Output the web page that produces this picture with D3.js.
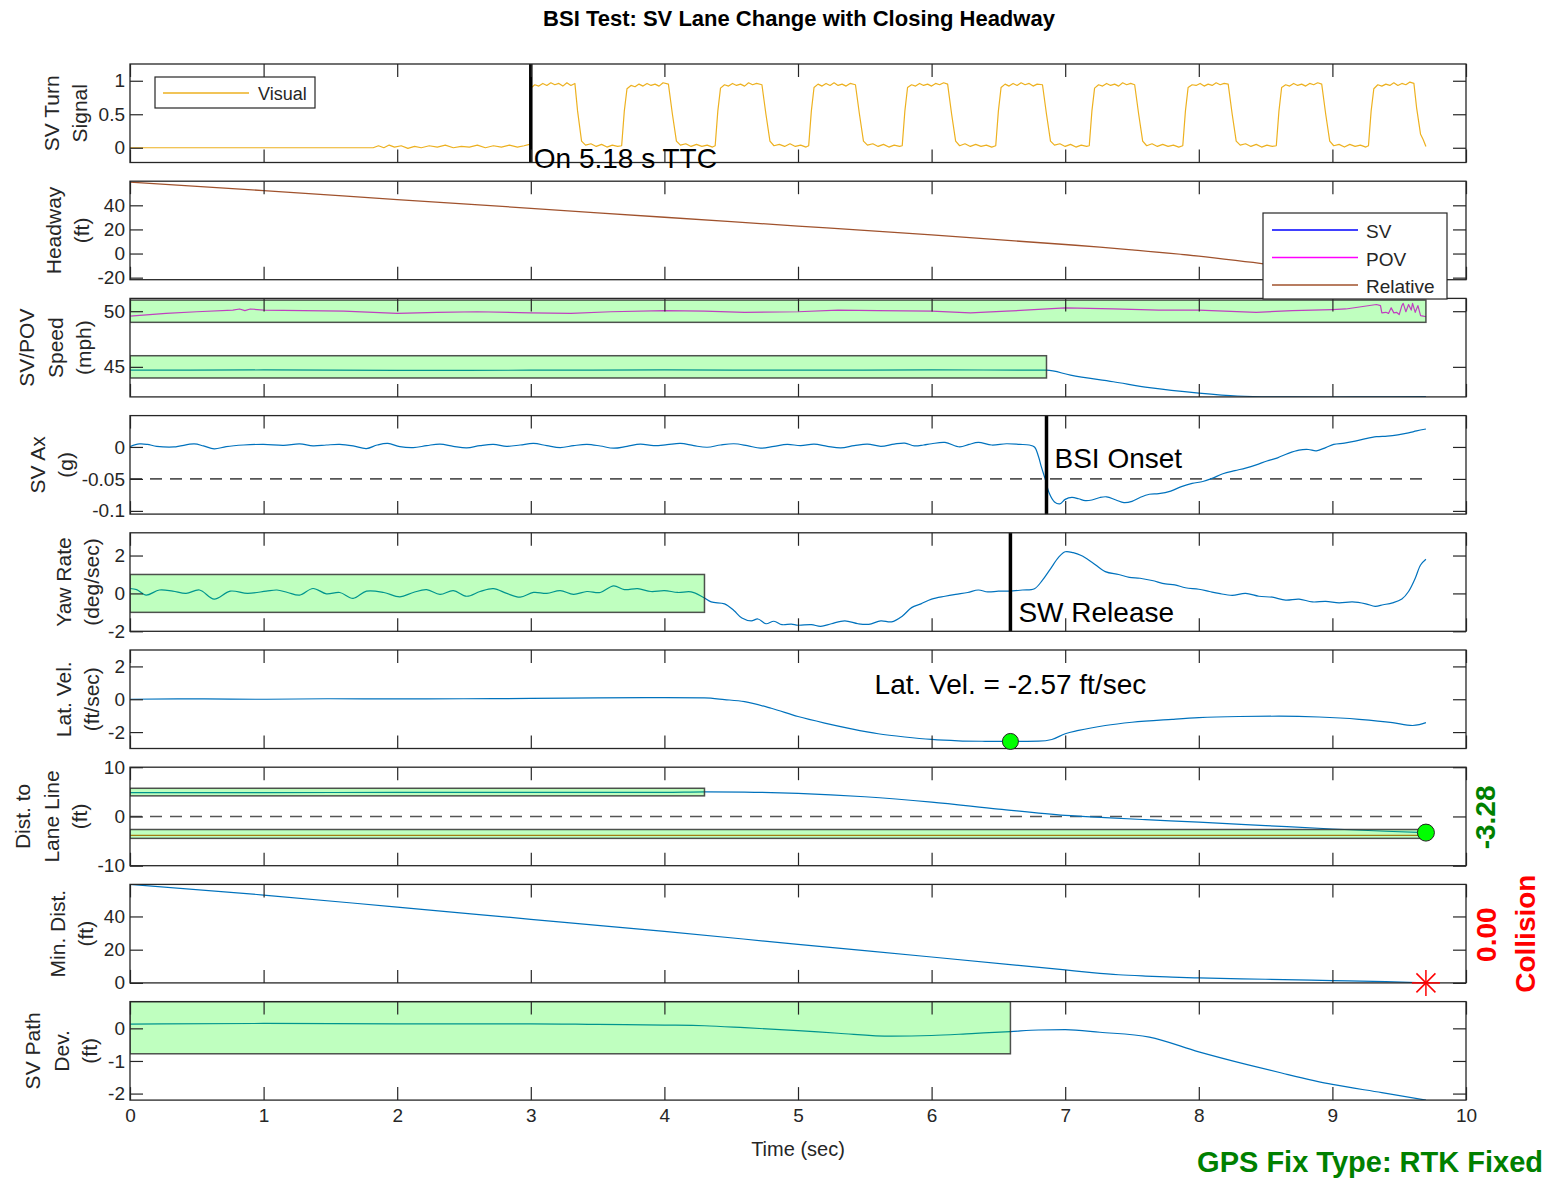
<!DOCTYPE html>
<html>
<head>
<meta charset="utf-8">
<script src="https://cdn.jsdelivr.net/npm/d3@7"></script>
<style>
  body { margin: 0; background: #fff; }
  svg { display: block; font-family: "Liberation Sans", Arial, Helvetica, sans-serif; }
</style>
</head>
<body>
<svg id="chart" width="1554" height="1181"></svg>
<script>
// ---------------- data (time in seconds) ----------------
const timeTicks = [0, 1, 2, 3, 4, 5, 6, 7, 8, 9, 10];

// SV turn signal, visual channel (0 = off, 1 = on)
const turnSignal = [
  [0,0],[1.82,0],[1.86,0.03],[1.9,0.0],[1.94,0.04],[1.98,0.01],[2.03,0.03],[2.08,-0.01],[2.13,0.02],[2.18,0.0],
  [2.24,0.03],[2.3,0.01],[2.36,0.04],[2.42,0.0],[2.48,0.02],[2.54,0.01],[2.6,0.04],[2.66,0.0],[2.72,0.03],[2.78,0.01],
  [2.84,0.04],[2.9,0.01],[2.95,0.03],[2.99,0.05],
  [3.0,0.06],[3.005,0.9],[3.03,0.94],[3.06,0.92],[3.09,0.96],[3.12,0.93],[3.15,0.97],[3.18,0.94],[3.21,0.96],[3.24,0.92],
  [3.27,0.97],[3.3,0.93],[3.33,0.96],[3.35,0.55],[3.38,0.1],[3.41,0.04],[3.45,0.06],[3.49,0.02],[3.53,0.05],[3.57,0.01],
  [3.61,0.04],[3.65,0.02],[3.68,0.03],
  [3.7,0.55],[3.72,0.88],[3.75,0.93],[3.78,0.91],[3.81,0.95],[3.84,0.92],[3.87,0.96],[3.9,0.93],[3.93,0.95],[3.96,0.92],
  [3.99,0.97],[4.03,0.95],[4.06,0.5],[4.09,0.1],[4.12,0.04],[4.16,0.06],[4.2,0.02],[4.24,0.05],[4.28,0.02],[4.32,0.04],
  [4.36,0.01],[4.38,0.03],
  [4.4,0.55],[4.42,0.89],[4.45,0.94],[4.48,0.92],[4.51,0.96],[4.54,0.93],[4.57,0.95],[4.6,0.92],[4.63,0.97],[4.66,0.94],
  [4.69,0.96],[4.73,0.94],[4.76,0.5],[4.79,0.1],[4.82,0.03],[4.86,0.05],[4.9,0.02],[4.94,0.06],[4.98,0.02],[5.02,0.04],
  [5.06,0.01],[5.08,0.03],
  [5.1,0.55],[5.12,0.9],[5.15,0.95],[5.18,0.92],[5.21,0.96],[5.24,0.93],[5.27,0.97],[5.3,0.93],[5.33,0.95],[5.36,0.92],
  [5.39,0.96],[5.43,0.94],[5.46,0.5],[5.49,0.1],[5.52,0.04],[5.56,0.06],[5.6,0.02],[5.64,0.05],[5.68,0.01],[5.72,0.04],
  [5.76,0.02],[5.78,0.03],
  [5.8,0.55],[5.82,0.9],[5.85,0.94],[5.88,0.92],[5.91,0.96],[5.94,0.93],[5.97,0.95],[6.0,0.92],[6.03,0.96],[6.06,0.94],
  [6.09,0.97],[6.12,0.95],[6.15,0.5],[6.18,0.1],[6.21,0.03],[6.25,0.06],[6.29,0.02],[6.33,0.05],[6.37,0.02],[6.41,0.04],
  [6.45,0.01],[6.48,0.03],
  [6.5,0.55],[6.52,0.9],[6.55,0.95],[6.58,0.92],[6.61,0.96],[6.64,0.93],[6.67,0.97],[6.7,0.94],[6.73,0.96],[6.76,0.92],
  [6.79,0.95],[6.83,0.94],[6.86,0.5],[6.89,0.1],[6.92,0.04],[6.96,0.06],[7.0,0.02],[7.04,0.05],[7.08,0.01],[7.12,0.04],
  [7.16,0.02],[7.18,0.03],
  [7.2,0.55],[7.22,0.89],[7.25,0.94],[7.28,0.92],[7.31,0.96],[7.34,0.93],[7.37,0.95],[7.4,0.92],[7.43,0.97],[7.46,0.94],
  [7.49,0.96],[7.52,0.94],[7.55,0.5],[7.58,0.1],[7.61,0.03],[7.65,0.06],[7.69,0.02],[7.73,0.05],[7.77,0.02],[7.81,0.04],
  [7.85,0.01],[7.88,0.03],
  [7.9,0.55],[7.92,0.9],[7.95,0.94],[7.98,0.93],[8.01,0.96],[8.04,0.92],[8.07,0.95],[8.1,0.93],[8.13,0.97],[8.16,0.94],
  [8.19,0.96],[8.22,0.95],[8.25,0.5],[8.28,0.1],[8.31,0.04],[8.35,0.06],[8.39,0.02],[8.43,0.05],[8.47,0.01],[8.51,0.04],
  [8.55,0.02],[8.58,0.03],
  [8.6,0.55],[8.62,0.9],[8.65,0.94],[8.68,0.92],[8.71,0.96],[8.74,0.93],[8.77,0.95],[8.8,0.92],[8.83,0.96],[8.86,0.94],
  [8.89,0.97],[8.92,0.95],[8.95,0.5],[8.98,0.1],[9.01,0.03],[9.05,0.05],[9.09,0.01],[9.13,0.05],[9.17,0.02],[9.21,0.04],
  [9.25,0.01],[9.27,0.03],
  [9.29,0.55],[9.31,0.88],[9.34,0.94],[9.37,0.92],[9.4,0.95],[9.43,0.93],[9.46,0.97],[9.49,0.93],[9.52,0.96],[9.55,0.94],
  [9.58,0.98],[9.61,0.96],[9.63,0.6],[9.66,0.2],[9.68,0.12],[9.7,0.02]
];

// Relative headway (ft)
const headwayRelative = [
  [0,59.2],[1,52.2],[2,44.8],[3,37.5],[4,30.1],[5,22.8],[6,15.4],[7,7.5],[7.26,5.3],[7.5,3.0],
  [8,-2.2],[8.5,-8.7],[9,-14.5],[9.7,-22.5]
];

// Speeds (mph)
const povSpeed = [
  [0,49.55],[0.27,49.8],[0.5,49.95],[0.77,50.1],[0.82,50.2],[0.86,50.05],[0.9,50.2],[1.0,50.1],[1.3,50.05],[1.6,50.0],
  [2.0,49.8],[2.3,49.9],[2.6,49.95],[3.0,49.85],[3.3,49.8],[3.6,49.95],[4.0,50.05],[4.3,50.0],[4.6,49.9],[5.0,49.95],
  [5.3,50.1],[5.6,50.05],[6.0,50.0],[6.29,49.85],[6.56,50.0],[7.0,50.3],[7.36,50.2],[7.7,50.1],[8.0,50.1],[8.43,49.9],
  [8.7,50.05],[9.0,50.15],[9.1,50.2],[9.33,50.6],[9.36,50.5],[9.37,49.85],[9.4,49.9],[9.42,49.8],[9.44,50.3],[9.46,49.85],
  [9.48,49.9],[9.5,49.7],[9.52,50.5],[9.53,50.7],[9.55,49.95],[9.57,50.6],[9.59,50.1],[9.6,50.7],[9.62,49.9],[9.64,50.5],
  [9.66,49.6],[9.68,49.55],[9.7,49.5]
];
const svSpeed = [
  [0,44.7],[1,44.72],[2,44.68],[3,44.7],[4,44.72],[5,44.7],[6,44.72],[6.86,44.7],[7.04,44.25],[7.36,43.66],
  [7.63,43.13],[8.0,42.64],[8.29,42.38],[8.56,42.31],[8.96,42.29],[9.23,42.3],[9.7,42.32]
];

// SV longitudinal acceleration (g)
const svAx = [
  [0,0.0005],[0.07,0.0047],[0.13,0.004],[0.2,0.001],[0.33,0.0],[0.48,0.0047],[0.55,0.0016],[0.63,-0.003],[0.72,0.0005],
  [0.85,0.003],[1.0,0.004],[1.15,0.0026],[1.27,0.0047],[1.37,0.0016],[1.47,0.003],[1.57,0.004],[1.67,0.0016],[1.77,-0.0026],
  [1.85,0.003],[1.93,0.0055],[2.02,0.0005],[2.12,-0.001],[2.22,0.002],[2.32,0.0045],[2.42,0.001],[2.52,-0.0015],[2.62,0.002],
  [2.72,0.004],[2.82,0.001],[2.92,0.003],[3.02,0.0055],[3.12,0.002],[3.22,-0.001],[3.32,0.002],[3.42,0.004],[3.52,0.0015],
  [3.62,-0.002],[3.72,0.001],[3.82,0.0045],[3.92,0.002],[4.02,0.0035],[4.12,0.0055],[4.22,0.002],[4.32,-0.0005],[4.42,0.003],
  [4.52,0.005],[4.62,0.002],[4.72,-0.002],[4.82,0.001],[4.92,0.004],[5.02,0.002],[5.12,0.0045],[5.22,0.001],[5.32,-0.0015],
  [5.42,0.002],[5.52,0.0045],[5.62,0.001],[5.72,0.0045],[5.8,0.006],[5.87,0.0016],[5.94,0.003],[6.0,0.005],[6.1,0.007],
  [6.21,0.0],[6.28,0.004],[6.35,0.007],[6.45,0.003],[6.56,0.005],[6.66,0.004],[6.73,0.003],[6.77,0.0],[6.8,-0.015],
  [6.82,-0.03],[6.85,-0.05],[6.88,-0.072],[6.92,-0.086],[6.96,-0.089],[7.0,-0.082],[7.05,-0.079],[7.1,-0.081],[7.15,-0.084],
  [7.2,-0.083],[7.26,-0.079],[7.31,-0.078],[7.38,-0.083],[7.44,-0.087],[7.5,-0.085],[7.56,-0.079],[7.63,-0.074],[7.7,-0.073],
  [7.79,-0.069],[7.87,-0.062],[7.95,-0.057],[8.03,-0.054],[8.1,-0.049],[8.18,-0.042],[8.27,-0.037],[8.35,-0.033],[8.43,-0.028],
  [8.51,-0.022],[8.59,-0.017],[8.67,-0.01],[8.75,-0.005],[8.82,-0.004],[8.88,-0.006],[8.95,-0.001],[9.01,0.004],[9.09,0.006],
  [9.17,0.009],[9.25,0.013],[9.33,0.016],[9.41,0.017],[9.49,0.019],[9.57,0.022],[9.63,0.025],[9.7,0.028]
];

// Yaw rate (deg/sec)
const yawRate = [
  [0,0.26],[0.05,0.2],[0.12,-0.09],[0.22,0.18],[0.32,0.12],[0.42,0.0],[0.52,0.18],[0.63,-0.3],[0.75,0.12],[0.88,0.0],
  [1.02,0.12],[1.1,0.18],[1.18,0.05],[1.27,-0.09],[1.37,0.26],[1.47,-0.02],[1.57,0.05],[1.67,-0.26],[1.77,0.12],[1.9,0.05],
  [2.02,-0.18],[2.12,0.05],[2.22,0.2],[2.32,-0.05],[2.42,0.15],[2.52,-0.15],[2.62,0.1],[2.72,0.25],[2.82,0.0],[2.92,-0.2],
  [3.02,0.05],[3.12,0.0],[3.22,0.15],[3.32,-0.05],[3.42,0.1],[3.52,0.05],[3.62,0.4],[3.7,0.2],[3.8,0.25],[3.9,0.1],
  [4.0,0.15],[4.1,0.05],[4.2,0.08],[4.29,-0.2],[4.35,-0.45],[4.45,-0.55],[4.52,-0.9],[4.58,-1.3],[4.65,-1.45],[4.7,-1.35],
  [4.76,-1.6],[4.82,-1.47],[4.88,-1.65],[4.95,-1.62],[5.0,-1.68],[5.1,-1.65],[5.17,-1.74],[5.25,-1.6],[5.35,-1.45],[5.45,-1.6],
  [5.53,-1.63],[5.62,-1.45],[5.7,-1.5],[5.78,-1.2],[5.85,-0.75],[5.92,-0.55],[6.0,-0.3],[6.1,-0.15],[6.18,-0.05],[6.27,0.05],
  [6.35,0.18],[6.42,0.08],[6.5,0.12],[6.58,0.12],[6.68,0.18],[6.77,0.25],[6.83,0.7],[6.89,1.3],[6.95,1.9],[7.0,2.2],
  [7.06,2.15],[7.12,2.0],[7.2,1.65],[7.3,1.15],[7.4,1.0],[7.48,0.85],[7.56,0.8],[7.65,0.68],[7.75,0.5],[7.82,0.45],
  [7.9,0.3],[8.0,0.22],[8.08,0.1],[8.15,0.0],[8.25,-0.1],[8.35,0.0],[8.45,-0.15],[8.55,-0.2],[8.65,-0.35],[8.75,-0.3],
  [8.85,-0.45],[8.95,-0.42],[9.05,-0.5],[9.15,-0.45],[9.25,-0.55],[9.32,-0.68],[9.38,-0.6],[9.45,-0.5],[9.52,-0.3],[9.57,0.1],
  [9.62,0.8],[9.66,1.5],[9.7,1.8]
];

// Lateral velocity (ft/sec)
const latVel = [
  [0,0.0],[0.5,0.02],[1,0.0],[1.5,0.03],[2,0.02],[2.5,0.03],[3,0.05],[3.5,0.08],[4,0.1],[4.3,0.08],[4.45,-0.02],
  [4.6,-0.15],[4.8,-0.55],[5.0,-1.05],[5.2,-1.45],[5.4,-1.8],[5.6,-2.1],[5.8,-2.3],[6.0,-2.45],[6.2,-2.53],[6.4,-2.56],
  [6.59,-2.57],[6.8,-2.55],[6.9,-2.45],[7.0,-2.1],[7.1,-1.9],[7.3,-1.6],[7.5,-1.4],[7.8,-1.22],[8.0,-1.12],[8.3,-1.05],
  [8.6,-1.03],[8.9,-1.08],[9.2,-1.22],[9.45,-1.42],[9.6,-1.6],[9.65,-1.55],[9.7,-1.42]
];

// Distance to lane line (ft)
const laneDistSV = [
  [0,4.85],[1,4.85],[2,4.87],[3,4.88],[4,4.9],[4.3,5.0],[4.6,4.95],[5.0,4.7],[5.5,4.0],[6.0,2.9],[6.5,1.5],
  [7.0,0.2],[7.3,-0.25],[7.6,-0.65],[8.0,-1.15],[8.5,-1.85],[9.0,-2.55],[9.4,-3.0],[9.7,-3.28]
];
const laneDistPOV = [[0,-3.85],[3,-3.85],[6,-3.85],[9.7,-3.85]];

// Minimum distance between vehicles (ft)
const minDist = [
  [0,59.3],[1,52.9],[2,45.6],[3,38.3],[3.52,34.5],[4,31.0],[5,23.2],[6,15.6],[7,7.8],[7.2,6.2],[7.4,4.9],
  [7.6,4.1],[7.8,3.5],[8.0,3.0],[8.5,2.2],[9.0,1.4],[9.4,0.8],[9.7,0.0]
];

// SV path deviation (ft)
const pathDev = [
  [0,0.13],[1,0.15],[2,0.14],[3,0.14],[3.5,0.12],[4,0.1],[4.3,0.08],[4.6,0.02],[5,-0.07],[5.3,-0.15],[5.7,-0.24],
  [6,-0.22],[6.3,-0.16],[6.59,-0.1],[6.8,-0.05],[7,-0.04],[7.26,-0.12],[7.63,-0.27],[8,-0.72],[8.37,-1.12],[8.62,-1.37],
  [9,-1.72],[9.37,-1.97],[9.7,-2.2]
];

// Events and tolerance bands
const turnOnTime = 3.0, swReleaseTime = 6.59, bsiOnsetTime = 6.86, endTime = 9.7;
const latVelAtRelease = -2.57, laneDistAtEnd = -3.28, minDistAtEnd = 0.00;
const povSpeedBand = [49, 51], svSpeedBand = [44, 46];
const yawBand = [-1, 1], yawBandEnd = 4.3;
const laneBandSV = [4.18, 5.72], laneBandSVEnd = 4.3;
const laneBandPOV = [-4.45, -2.65];
const pathDevBand = [-0.78, 0.82];
const axThreshold = -0.05;

// ---------------- layout ----------------
const svg = d3.select("#chart");
const W = 1554, H = 1181;
svg.append("rect").attr("width", W).attr("height", H).attr("fill", "#fff");

const x = d3.scaleLinear().domain([0, 10]).range([130, 1466]);
const top0 = 64, step = 117.2, ph = 98.5;
const AX = "#262626";
const BLUE = "#0072BD", ORANGE = "#D95319", YELLOW = "#EDB120";
const GREEN_FILL = "rgba(0,255,0,0.25)";

const panelSpecs = [
  { key: "turn",  domain: [-0.22, 1.25], ticks: [0, 0.5, 1], label: ["SV Turn", "Signal"], lx: 80 },
  { key: "head",  domain: [-21.7, 60], ticks: [-20, 0, 20, 40], label: ["Headway", "(ft)"], lx: 82 },
  { key: "speed", domain: [42.3, 51.15], ticks: [45, 50], label: ["SV/POV", "Speed", "(mph)"], lx: 84 },
  { key: "ax",    domain: [-0.105, 0.049], ticks: [-0.1, -0.05, 0], label: ["SV Ax", "(g)"], lx: 66 },
  { key: "yaw",   domain: [-2, 3.2], ticks: [-2, 0, 2], label: ["Yaw Rate", "(deg/sec)"], lx: 92 },
  { key: "lat",   domain: [-3, 3], ticks: [-2, 0, 2], label: ["Lat. Vel.", "(ft/sec)"], lx: 92 },
  { key: "lane",  domain: [-10, 10], ticks: [-10, 0, 10], label: ["Dist. to", "Lane Line", "(ft)"], lx: 80 },
  { key: "min",   domain: [0, 59.3], ticks: [0, 20, 40], label: ["Min. Dist.", "(ft)"], lx: 86 },
  { key: "path",  domain: [-2.2, 0.82], ticks: [-2, -1, 0], label: ["SV Path", "Dev.", "(ft)"], lx: 90 }
];

const panels = {};
panelSpecs.forEach((p, i) => {
  const t = top0 + i * step;
  const y = d3.scaleLinear().domain(p.domain).range([t + ph, t]);
  const g = svg.append("g").attr("class", "panel-" + p.key);
  const clipId = "clip-" + p.key;
  svg.append("clipPath").attr("id", clipId)
    .append("rect").attr("x", x(0)).attr("y", t).attr("width", x(10) - x(0)).attr("height", ph);
  const data = g.append("g").attr("clip-path", `url(#${clipId})`);
  panels[p.key] = { ...p, y, g, data, top: t, bottom: t + ph };
});

const lineGen = (y, curve) => d3.line().x(d => x(d[0])).y(d => y(d[1])).curve(curve || d3.curveLinear);
function drawLine(pk, series, color, curve, width) {
  const P = panels[pk];
  P.data.append("path").datum(series)
    .attr("d", lineGen(P.y, curve))
    .attr("fill", "none").attr("stroke", color).attr("stroke-width", width || 1.2)
    .attr("stroke-linejoin", "round");
}
function band(pk, t0, t1, range) {
  const P = panels[pk];
  P.data.append("rect")
    .attr("x", x(t0)).attr("y", P.y(range[1]))
    .attr("width", x(t1) - x(t0)).attr("height", P.y(range[0]) - P.y(range[1]))
    .attr("fill", GREEN_FILL).attr("stroke", "#333").attr("stroke-opacity", 0.85).attr("stroke-width", 1.5);
}
function dashed(pk, value, t0, t1) {
  const P = panels[pk];
  P.data.append("line").attr("x1", x(t0)).attr("x2", x(t1))
    .attr("y1", P.y(value)).attr("y2", P.y(value))
    .attr("stroke", "#555").attr("stroke-width", 1.6).attr("stroke-dasharray", "12,8");
}
function eventLine(pk, t) {
  const P = panels[pk];
  P.g.append("line").attr("x1", x(t)).attr("x2", x(t))
    .attr("y1", P.top).attr("y2", P.bottom)
    .attr("stroke", "#000").attr("stroke-width", 3.5);
}
function note(txt, px, py, opts = {}) {
  return svg.append("text").attr("x", px).attr("y", py)
    .attr("font-size", opts.size || 28).attr("fill", opts.color || "#000")
    .attr("font-weight", opts.weight || "normal")
    .attr("text-anchor", opts.anchor || "start").text(txt);
}

// ---------------- series ----------------
drawLine("turn", turnSignal, YELLOW, d3.curveLinear, 1.2);
drawLine("head", headwayRelative, "#A0522D", d3.curveMonotoneX, 1.3);

drawLine("speed", povSpeed, "#FF00FF", d3.curveLinear, 1.2);
drawLine("speed", svSpeed, BLUE, d3.curveMonotoneX, 1.2);
band("speed", 0, endTime, povSpeedBand);
band("speed", 0, bsiOnsetTime, svSpeedBand);

dashed("ax", axThreshold, 0, endTime);
drawLine("ax", svAx, BLUE, d3.curveCatmullRom, 1.2);

drawLine("yaw", yawRate, BLUE, d3.curveCatmullRom, 1.2);
band("yaw", 0, yawBandEnd, yawBand);

drawLine("lat", latVel, BLUE, d3.curveMonotoneX, 1.2);

dashed("lane", 0, 0, endTime);
drawLine("lane", laneDistPOV, ORANGE, d3.curveLinear, 1.2);
drawLine("lane", laneDistSV, BLUE, d3.curveMonotoneX, 1.2);
band("lane", 0, laneBandSVEnd, laneBandSV);
band("lane", 0, endTime, laneBandPOV);

drawLine("min", minDist, BLUE, d3.curveMonotoneX, 1.2);

drawLine("path", pathDev, BLUE, d3.curveMonotoneX, 1.2);
band("path", 0, swReleaseTime, pathDevBand);

// ---------------- event markers ----------------
eventLine("turn", turnOnTime);
eventLine("ax", bsiOnsetTime);
eventLine("yaw", swReleaseTime);

const lat = panels.lat, lane = panels.lane, mind = panels.min;
svg.append("circle").attr("cx", x(swReleaseTime)).attr("cy", lat.y(latVelAtRelease)).attr("r", 8)
  .attr("fill", "#00FF00").attr("stroke", "#222").attr("stroke-width", 1);
svg.append("circle").attr("cx", x(endTime)).attr("cy", lane.y(laneDistAtEnd)).attr("r", 8.5)
  .attr("fill", "#00FF00").attr("stroke", "#222").attr("stroke-width", 1);

// asterisk marker at collision point
const ax0 = x(endTime), ay0 = mind.y(minDistAtEnd);
const star = svg.append("g").attr("stroke", "#FF0000").attr("stroke-width", 1.5);
[[-14, 0, 14, 0], [0, -13, 0, 13], [-9.5, -9.5, 9.5, 9.5], [-9.5, 9.5, 9.5, -9.5]].forEach(s => {
  star.append("line").attr("x1", ax0 + s[0]).attr("y1", ay0 + s[1]).attr("x2", ax0 + s[2]).attr("y2", ay0 + s[3]);
});

// ---------------- axes ----------------
const fmt = d => String(d);
Object.values(panels).forEach((P, i) => {
  const g = P.g;
  const last = i === panelSpecs.length - 1;
  const styleAxis = sel => {
    sel.select(".domain").remove();
    sel.selectAll(".tick line").attr("stroke", AX).attr("stroke-width", 1.2);
    sel.selectAll(".tick text").attr("fill", AX).attr("font-size", 19)
      .attr("font-family", '"Liberation Sans", Arial, Helvetica, sans-serif');
  };
  g.append("g").attr("transform", `translate(${x(0)},0)`)
    .call(d3.axisLeft(P.y).tickValues(P.ticks).tickSize(-13).tickPadding(5).tickFormat(fmt)).call(styleAxis);
  g.append("g").attr("transform", `translate(${x(10)},0)`)
    .call(d3.axisRight(P.y).tickValues(P.ticks).tickSize(-13).tickFormat("")).call(styleAxis);
  g.append("g").attr("transform", `translate(0,${P.top})`)
    .call(d3.axisTop(x).tickValues(timeTicks).tickSize(-13).tickFormat("")).call(styleAxis);
  g.append("g").attr("transform", `translate(0,${P.bottom})`)
    .call(d3.axisBottom(x).tickValues(timeTicks).tickSize(-13).tickPadding(8).tickFormat(last ? fmt : ""))
    .call(styleAxis);
  g.append("rect").attr("x", x(0)).attr("y", P.top).attr("width", x(10) - x(0)).attr("height", ph)
    .attr("fill", "none").attr("stroke", AX).attr("stroke-width", 1.3);

  // multi-line y label
  const cy = (P.top + P.bottom) / 2;
  P.label.forEach((s, k) => {
    const lx = P.lx - (P.label.length - 1 - k) * 28.5;
    svg.append("text").attr("transform", `translate(${lx},${cy}) rotate(-90)`)
      .attr("text-anchor", "middle").attr("dy", "0.35em")
      .attr("font-size", 21).attr("fill", AX).text(s);
  });
});

// ---------------- annotations ----------------
svg.append("text").attr("x", 799).attr("y", 26).attr("text-anchor", "middle")
  .attr("font-size", 22).attr("font-weight", "bold").attr("fill", "#000")
  .text("BSI Test: SV Lane Change with Closing Headway");

note("On 5.18 s TTC", x(turnOnTime) + 3, 168);
note("BSI Onset", x(bsiOnsetTime) + 8, 468);
note("SW Release", x(swReleaseTime) + 8, 622);
note("Lat. Vel. = " + latVelAtRelease.toFixed(2) + " ft/sec", x(swReleaseTime), 694, { anchor: "middle" });

svg.append("text").attr("x", 798).attr("y", 1156).attr("text-anchor", "middle")
  .attr("font-size", 20).attr("fill", AX).text("Time (sec)");

const rot = (txt, px, py, color) => svg.append("text")
  .attr("transform", `translate(${px},${py}) rotate(-90)`).attr("text-anchor", "middle")
  .attr("font-size", 28).attr("font-weight", "bold").attr("fill", color).text(txt);
rot(laneDistAtEnd.toFixed(2), 1495, (lane.top + lane.bottom) / 2 + 1, "#008000");
rot(minDistAtEnd.toFixed(2), 1496, (mind.top + mind.bottom) / 2 + 1, "#FF0000");
rot("Collision", 1535, (mind.top + mind.bottom) / 2, "#FF0000");

svg.append("text").attr("x", 1543).attr("y", 1172).attr("text-anchor", "end")
  .attr("font-size", 29).attr("font-weight", "bold").attr("fill", "#008000")
  .text("GPS Fix Type: RTK Fixed");

// ---------------- legends ----------------
const lg1 = svg.append("g");
lg1.append("rect").attr("x", 155).attr("y", 77).attr("width", 160).attr("height", 31)
  .attr("fill", "#fff").attr("stroke", AX).attr("stroke-width", 1.2);
lg1.append("line").attr("x1", 163).attr("x2", 249).attr("y1", 93).attr("y2", 93)
  .attr("stroke", YELLOW).attr("stroke-width", 1.3);
lg1.append("text").attr("x", 258).attr("y", 100).attr("font-size", 18).attr("fill", AX).text("Visual");

const legendItems = [["SV", "#0000FF"], ["POV", "#FF00FF"], ["Relative", "#A0522D"]];
const lg2 = svg.append("g");
lg2.append("rect").attr("x", 1263).attr("y", 213).attr("width", 184).attr("height", 86)
  .attr("fill", "#fff").attr("stroke", AX).attr("stroke-width", 1.2);
legendItems.forEach((d, k) => {
  const ly = 230 + k * 27.5;
  lg2.append("line").attr("x1", 1272).attr("x2", 1358).attr("y1", ly).attr("y2", ly)
    .attr("stroke", d[1]).attr("stroke-width", 1.4);
  lg2.append("text").attr("x", 1366).attr("y", ly + 8).attr("font-size", 19).attr("fill", AX).text(d[0]);
});
</script>
</body>
</html>
